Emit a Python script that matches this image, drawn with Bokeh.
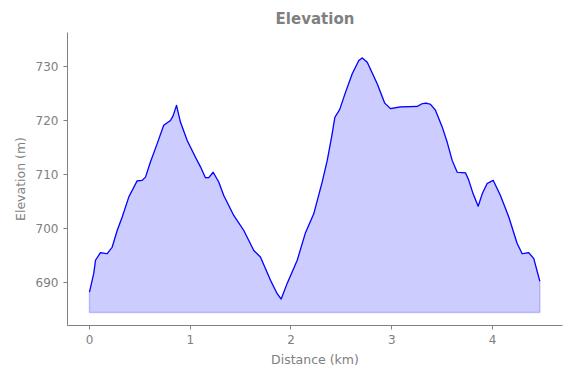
from bokeh.plotting import figure
from bokeh.embed import file_html
from bokeh.resources import INLINE
from bokeh.models import Range1d, FixedTicker

distance_km = [0.0, 0.043, 0.06, 0.109, 0.176, 0.225, 0.275, 0.325, 0.39, 0.473,
               0.523, 0.556, 0.605, 0.672, 0.737, 0.804, 0.831, 0.864, 0.903, 0.97,
               1.052, 1.102, 1.151, 1.184, 1.228, 1.283, 1.333, 1.432, 1.532, 1.631,
               1.697, 1.797, 1.863, 1.903, 1.962, 2.062, 2.144, 2.226, 2.31, 2.36,
               2.403, 2.436, 2.483, 2.541, 2.607, 2.673, 2.707, 2.757, 2.856, 2.931,
               2.988, 3.087, 3.253, 3.3, 3.34, 3.385, 3.434, 3.501, 3.55, 3.6,
               3.65, 3.732, 3.765, 3.808, 3.858, 3.898, 3.947, 4.007, 4.079, 4.162,
               4.245, 4.295, 4.36, 4.41, 4.47]
elevation_m = [688.2, 691.7, 694.1, 695.5, 695.3, 696.5, 699.6, 702.1, 705.8, 708.8,
               708.9, 709.5, 712.3, 715.7, 719.1, 720.0, 720.9, 722.8, 719.7, 716.3,
               713.2, 711.4, 709.4, 709.4, 710.4, 708.6, 706.1, 702.4, 699.6, 695.9,
               694.7, 690.4, 687.9, 686.9, 689.8, 694.1, 699.2, 702.7, 708.6, 712.6,
               716.9, 720.6, 722.0, 725.2, 728.6, 731.1, 731.6, 730.8, 726.8, 723.2,
               722.2, 722.5, 722.6, 723.1, 723.2, 723.0, 721.9, 718.8, 716.0, 712.6,
               710.4, 710.3, 708.9, 706.4, 704.1, 706.4, 708.3, 708.9, 706.1, 702.1,
               697.2, 695.3, 695.5, 694.4, 690.2]
baseline_m = 684.4
x_ticks = [0, 1, 2, 3, 4]
y_ticks = [690, 700, 710, 720, 730]

GRAY = "#808080"
FONT = "DejaVu Sans"

p = figure(width=563, height=370, output_backend="svg", toolbar_location=None,
           x_range=Range1d(-0.218, 4.695), y_range=Range1d(682.0, 736.3),
           title="Elevation", min_border_left=67, min_border_right=1,
           min_border_top=32, min_border_bottom=45)

# filled area polygon with faint edge
px = [distance_km[0]] + distance_km + [distance_km[-1]]
py = [baseline_m] + elevation_m + [baseline_m]
p.patch(px, py, fill_color="#0000ff", fill_alpha=0.2,
        line_color="#0000ff", line_alpha=0.2, line_width=1.5)
p.line(distance_km, elevation_m, line_color="#0000ff", line_width=1.2,
       line_join="round")

p.title.align = "center"
p.title.text_font = FONT
p.title.text_font_size = "15px"
p.title.text_font_style = "bold"
p.title.text_color = GRAY

p.xgrid.visible = False
p.ygrid.visible = False
p.outline_line_color = None

for ax in (p.xaxis[0], p.yaxis[0]):
    ax.axis_line_color = GRAY
    ax.major_tick_line_color = GRAY
    ax.minor_tick_line_color = None
    ax.major_tick_out = 4
    ax.major_tick_in = 0
    ax.major_label_text_color = GRAY
    ax.major_label_text_font = FONT
    ax.major_label_text_font_size = "12px"
    ax.axis_label_text_color = GRAY
    ax.axis_label_text_font = FONT
    ax.axis_label_text_font_size = "12.5px"
    ax.axis_label_text_font_style = "normal"

p.xaxis.ticker = FixedTicker(ticks=x_ticks)
p.yaxis.ticker = FixedTicker(ticks=y_ticks)
p.xaxis.axis_label = "Distance (km)"
p.yaxis.axis_label = "Elevation (m)"

open("out.html", "w").write(file_html(p, INLINE))
